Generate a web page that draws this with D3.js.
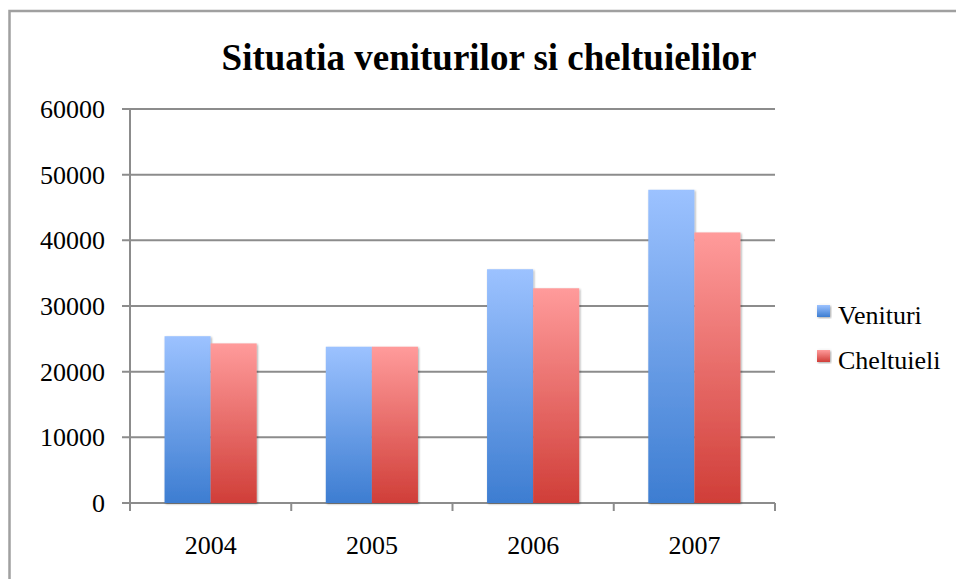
<!DOCTYPE html>
<html><head><meta charset="utf-8">
<script src="https://cdn.jsdelivr.net/npm/d3@7"></script>
<style>html,body{margin:0;padding:0;background:#fff;}</style>
</head><body>
<svg id="chart" width="956" height="579"></svg>
<script>
const title = "Situatia veniturilor si cheltuielilor";
const categories = ["2004", "2005", "2006", "2007"];
const seriesNames = ["Venituri", "Cheltuieli"];
const venituri = [25400, 23800, 35600, 47700];
const cheltuieli = [24300, 23800, 32700, 41200];
const yTicks = [0, 10000, 20000, 30000, 40000, 50000, 60000];

(function () {
const svg = d3.select("#chart");
const font = "'Liberation Serif','Times New Roman',serif";

// outer border
svg.append("rect").attr("x", 9.5).attr("y", 11).attr("width", 960).attr("height", 600)
  .attr("fill", "#fff").attr("stroke", "#a0a0a0").attr("stroke-width", 2.5);

const defs = svg.append("defs");
const gradBlue = defs.append("linearGradient").attr("id", "gBlue").attr("x1", 0).attr("y1", 0).attr("x2", 0).attr("y2", 1);
gradBlue.append("stop").attr("offset", "0%").attr("stop-color", "#9cc2ff");
gradBlue.append("stop").attr("offset", "100%").attr("stop-color", "#3d7dd1");
const gradRed = defs.append("linearGradient").attr("id", "gRed").attr("x1", 0).attr("y1", 0).attr("x2", 0).attr("y2", 1);
gradRed.append("stop").attr("offset", "0%").attr("stop-color", "#ff9b9b");
gradRed.append("stop").attr("offset", "100%").attr("stop-color", "#d03e38");
const shadow = defs.append("filter").attr("id", "sh").attr("x", "-10%").attr("y", "-10%").attr("width", "120%").attr("height", "120%");
shadow.append("feGaussianBlur").attr("in", "SourceAlpha").attr("stdDeviation", 1.2).attr("result", "b");
shadow.append("feOffset").attr("in", "b").attr("dx", 0.5).attr("dy", 0.5).attr("result", "o");
shadow.append("feComponentTransfer").attr("in", "o").attr("result", "o2").append("feFuncA").attr("type", "linear").attr("slope", 0.35);
const mg = shadow.append("feMerge");
mg.append("feMergeNode").attr("in", "o2");
mg.append("feMergeNode").attr("in", "SourceGraphic");

const pLeft = 130, pRight = 775, pTop = 109, pBottom = 503;
const x = d3.scaleBand().domain(categories).range([pLeft, pRight]).paddingInner(0).paddingOuter(0);
const x1 = d3.scaleBand().domain(seriesNames).range([0, x.bandwidth()]).paddingInner(0).paddingOuter(0.75);
const y = d3.scaleLinear().domain([0, 60000]).range([pBottom, pTop]);

// gridlines
svg.append("g").selectAll("line").data(yTicks).join("line")
  .attr("x1", pLeft - 8).attr("x2", pRight)
  .attr("y1", d => y(d)).attr("y2", d => y(d))
  .attr("stroke", "#8c8c8c").attr("stroke-width", 2);

// y axis line
svg.append("line").attr("x1", pLeft).attr("x2", pLeft).attr("y1", pTop).attr("y2", pBottom + 8)
  .attr("stroke", "#8c8c8c").attr("stroke-width", 2);

// x category tick marks
const xTickPos = categories.map(c => x(c)).concat([pRight]);
svg.append("g").selectAll("line").data(xTickPos).join("line")
  .attr("x1", d => d).attr("x2", d => d).attr("y1", pBottom).attr("y2", pBottom + 8)
  .attr("stroke", "#8c8c8c").attr("stroke-width", 2);

// y labels
svg.append("g").selectAll("text").data(yTicks).join("text")
  .attr("x", 105).attr("y", d => y(d)).attr("dy", "0.35em")
  .attr("text-anchor", "end").attr("font-family", font).attr("font-size", 26)
  .attr("fill", "#000").text(d => d);

// bars
const colors = {"Venituri": "url(#gBlue)", "Cheltuieli": "url(#gRed)"};
const data = categories.map((c, i) => ({cat: c, vals: [{s: "Venituri", v: venituri[i]}, {s: "Cheltuieli", v: cheltuieli[i]}]}));
const groups = svg.append("g").selectAll("g").data(data).join("g")
  .attr("transform", d => `translate(${x(d.cat)},0)`);
groups.selectAll("rect").data(d => d.vals).join("rect")
  .attr("x", d => x1(d.s)).attr("width", x1.bandwidth())
  .attr("y", d => y(d.v)).attr("height", d => y(0) - y(d.v))
  .attr("fill", d => colors[d.s]).attr("filter", "url(#sh)");

// x labels
svg.append("g").selectAll("text").data(categories).join("text")
  .attr("x", d => x(d) + x.bandwidth() / 2).attr("y", 554)
  .attr("text-anchor", "middle").attr("font-family", font).attr("font-size", 26)
  .attr("fill", "#000").text(d => d);

// title
svg.append("text").attr("x", 489).attr("y", 70).attr("text-anchor", "middle")
  .attr("font-family", font).attr("font-weight", "bold").attr("font-size", 37)
  .attr("fill", "#000").text(title);

// legend
const legend = svg.append("g");
const legFill = ["url(#gBlue)", "url(#gRed)"];
seriesNames.forEach((s, i) => {
  const ly = 305 + i * 45;
  legend.append("rect").attr("x", 817).attr("y", ly).attr("width", 13).attr("height", 12)
    .attr("fill", legFill[i]).attr("filter", "url(#sh)");
  legend.append("text").attr("x", 838).attr("y", ly + 19).attr("font-family", font)
    .attr("font-size", 26).attr("fill", "#000").text(s);
});
})();
</script>
</body></html>
